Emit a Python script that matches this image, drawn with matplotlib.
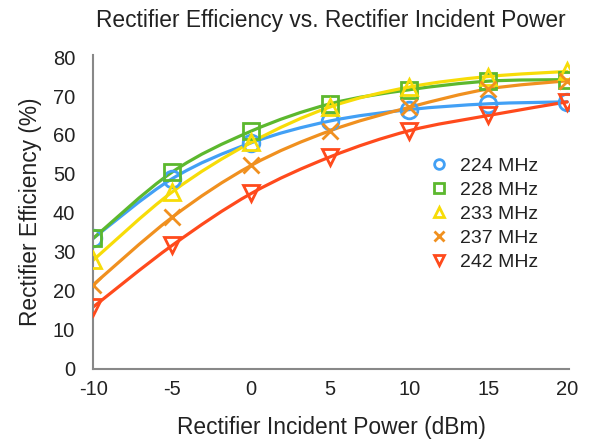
import numpy as np
import matplotlib
matplotlib.use("Agg")
import matplotlib.pyplot as plt
from matplotlib.path import Path
from matplotlib.patches import PathPatch
from matplotlib.lines import Line2D

plt.rcParams['font.family'] = ['Liberation Sans', 'DejaVu Sans']
plt.rcParams['axes.unicode_minus'] = False

power = [-10, -5, 0, 5, 10, 15, 20]
labels = ["224 MHz", "228 MHz", "233 MHz", "237 MHz", "242 MHz"]
eff_224 = [33.5, 48.8, 58.0, 63.6, 66.5, 68.0, 68.5]
eff_228 = [33.5, 50.5, 61.0, 68.0, 71.6, 73.8, 74.2]
eff_233 = [27.9, 45.4, 58.1, 67.2, 72.3, 75.0, 76.3]
eff_237 = [21.6, 38.9, 52.2, 61.1, 67.1, 71.8, 73.9]
eff_242 = [15.9, 31.7, 45.0, 54.4, 61.1, 65.0, 68.5]
series = [eff_224, eff_228, eff_233, eff_237, eff_242]
colors = ["#42a0f5", "#5cb82e", "#f7dc08", "#f0901f", "#ff4a1c"]
markers = ["o", "s", "^", "x", "v"]

fig = plt.figure(figsize=(5.9, 4.44), dpi=100)
ax = fig.add_axes([0.158, 0.169, 0.806, 0.707])


def smooth_path(xs, ys, t=1/6):
    xs = np.asarray(xs, float); ys = np.asarray(ys, float)
    n = len(xs)
    verts = [(xs[0], ys[0])]
    codes = [Path.MOVETO]
    for i in range(n - 1):
        p0 = np.array([xs[max(i - 1, 0)], ys[max(i - 1, 0)]])
        p1 = np.array([xs[i], ys[i]])
        p2 = np.array([xs[i + 1], ys[i + 1]])
        p3 = np.array([xs[min(i + 2, n - 1)], ys[min(i + 2, n - 1)]])
        c1 = p1 + (p2 - p0) * t
        c2 = p2 - (p3 - p1) * t
        verts += [tuple(c1), tuple(c2), tuple(p2)]
        codes += [Path.CURVE4] * 3
    return Path(verts, codes)


handles = []
for ys, c, m, lab in zip(series, colors, markers, labels):
    patch = PathPatch(smooth_path(power, ys), facecolor='none', edgecolor=c,
                      lw=2.3, zorder=2, capstyle='round', joinstyle='round')
    ax.add_patch(patch)
    ax.plot(power, ys, linestyle='none', marker=m, markersize=12 if m != 'x' else 11,
            markerfacecolor='none' if m != 'x' else c, markeredgecolor=c,
            markeredgewidth=2, zorder=3)
    handles.append(Line2D([], [], linestyle='none', marker=m, markersize=7,
                          markerfacecolor='none', markeredgecolor=c,
                          markeredgewidth=2, label=lab))

ax.set_xlim(-10, 20.1)
ax.set_ylim(0, 80.5)
ax.set_xticks([-10, -5, 0, 5, 10, 15, 20])
ax.set_yticks(range(0, 81, 10))
ax.tick_params(axis='both', length=0, labelsize=14.5, colors='#222222')
ax.tick_params(axis='y', pad=13)
ax.tick_params(axis='x', pad=8)
for s in ['top', 'right']:
    ax.spines[s].set_visible(False)
for s in ['left', 'bottom']:
    ax.spines[s].set_color('#888888')
    ax.spines[s].set_linewidth(1.5)

ax.set_title("Rectifier Efficiency vs. Rectifier Incident Power", fontsize=16.4,
             color='#222222', pad=20)
ax.set_xlabel("Rectifier Incident Power (dBm)", fontsize=16.4, color='#222222', labelpad=12)
ax.set_ylabel("Rectifier Efficiency (%)", fontsize=16.4, color='#222222', labelpad=8)

leg = ax.legend(handles=handles, loc='upper left', bbox_to_anchor=(0.67, 0.73),
                frameon=False, fontsize=14, handlelength=1.0, handletextpad=0.6,
                labelspacing=0.33, labelcolor='#222222')

fig.savefig("out.png", dpi=100)
